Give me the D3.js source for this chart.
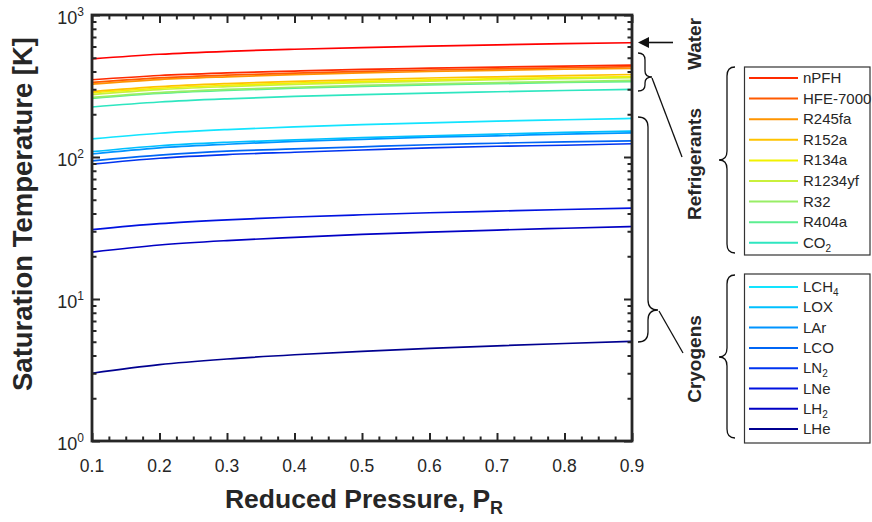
<!DOCTYPE html>
<html><head><meta charset="utf-8">
<script src="https://cdn.jsdelivr.net/npm/d3@7"></script>
<style>
body{margin:0;background:#fff}
svg{display:block}
text{font-family:"Liberation Sans",Arial,Helvetica,sans-serif;fill:#262626}
</style>
</head><body>
<svg id="chart" width="872" height="522"></svg>
<script>
// ---------------- data ----------------
const pressures = [0.1, 0.2, 0.3, 0.4, 0.5, 0.6, 0.7, 0.8, 0.9];

const waterT = [491, 529, 555, 574, 590, 604, 617, 628, 638];

const refrigerantNames = ["nPFH", "HFE-7000", "R245fa", "R152a", "R134a", "R1234yf", "R32", "R404a", "CO"];
const refrigerantSubs  = ["", "", "", "", "", "", "", "", "2"];
const nPFH_T    = [350, 375, 391, 403, 414, 422, 430, 437, 443];
const hfe7000_T = [335, 361, 377, 390, 401, 410, 418, 425, 432];
const r245fa_T  = [326, 351, 367, 380, 391, 400, 408, 415, 421];
const r152a_T   = [289, 313, 329, 341, 351, 360, 367, 374, 381];
const r134a_T   = [283, 305, 320, 332, 341, 349, 356, 363, 369];
const r1234yf_T = [275, 298, 313, 325, 334, 342, 350, 356, 362];
const r32_T     = [263, 284, 299, 310, 319, 327, 334, 340, 346];
const r404a_T   = [259, 280, 294, 305, 314, 322, 328, 335, 340];
const co2_T     = [225, 244, 257, 267, 275, 282, 288, 294, 299];

const cryogenNames = ["LCH", "LOX", "LAr", "LCO", "LN", "LNe", "LH", "LHe"];
const cryogenSubs  = ["4", "", "", "", "2", "", "2", ""];
const lch4_T = [134, 147, 156, 163, 169, 174, 179, 183, 187];
const lox_T  = [109, 120, 127, 132, 137, 141, 145, 149, 152];
const lar_T  = [105, 116, 123, 129, 133, 138, 141, 145, 148];
const lco_T  = [94, 103, 110, 114, 118, 122, 125, 128, 130];
const ln2_T  = [89, 98, 104, 108, 112, 116, 119, 121, 124];
const lne_T  = [30.8, 33.9, 36.1, 37.8, 39.2, 40.5, 41.6, 42.7, 43.6];
const lh2_T  = [21.4, 24.0, 25.8, 27.2, 28.5, 29.6, 30.6, 31.5, 32.4];
const lhe_T  = [3.0, 3.45, 3.78, 4.05, 4.28, 4.49, 4.68, 4.86, 5.03];

const xTickValues = [0.1, 0.2, 0.3, 0.4, 0.5, 0.6, 0.7, 0.8, 0.9];
const xTickLabels = ["0.1", "0.2", "0.3", "0.4", "0.5", "0.6", "0.7", "0.8", "0.9"];
const yTickValues = [1, 10, 100, 1000];
const yTickExponents = ["0", "1", "2", "3"];

// ---------------- styles ----------------
const waterColor = "#ff0000";
const refrigerantColors = ["#ff2a00", "#ff5a00", "#ff9400", "#ffc300", "#f2f200", "#c9f03c", "#98ee66", "#5cee90", "#2ee6c0"];
const cryogenColors = ["#12e4ff", "#00c0ff", "#0094ff", "#0066f5", "#0034f0", "#0012e0", "#0000c4", "#000090"];
const axisColor = "#262626";

const refrigerantSeries = [nPFH_T, hfe7000_T, r245fa_T, r152a_T, r134a_T, r1234yf_T, r32_T, r404a_T, co2_T];
const cryogenSeries = [lch4_T, lox_T, lar_T, lco_T, ln2_T, lne_T, lh2_T, lhe_T];

// ---------------- layout ----------------
const L = 92, R = 632, T = 15, B = 441;
const svg = d3.select("#chart");
const x = d3.scaleLinear().domain([0.1, 0.9]).range([L, R]);
const y = d3.scaleLog().domain([1, 1000]).range([B, T]);

const line = d3.line()
  .x((d, i) => x(pressures[i]))
  .y(d => y(d))
  .curve(d3.curveMonotoneX);

// data lines
const plot = svg.append("g");
cryogenSeries.slice().reverse().forEach((s, k) => {
  const i = cryogenSeries.length - 1 - k;
  plot.append("path").attr("d", line(s)).attr("fill", "none")
    .attr("stroke", cryogenColors[i]).attr("stroke-width", 1.7);
});
refrigerantSeries.slice().reverse().forEach((s, k) => {
  const i = refrigerantSeries.length - 1 - k;
  plot.append("path").attr("d", line(s)).attr("fill", "none")
    .attr("stroke", refrigerantColors[i]).attr("stroke-width", 1.7);
});
plot.append("path").attr("d", line(waterT)).attr("fill", "none")
  .attr("stroke", waterColor).attr("stroke-width", 1.7);

// axes (ticks inward on all four sides)
const xMinor = d3.range(0.1, 0.9001, 0.025).filter(v => Math.abs(v * 10 - Math.round(v * 10)) > 1e-6);
const yMinor = [];
[1, 10, 100].forEach(d => { for (let m = 2; m <= 9; m++) yMinor.push(d * m); });

function styleAxis(g) {
  g.select(".domain").remove();
  g.selectAll(".tick line").attr("stroke", axisColor).attr("stroke-width", 2);
  g.selectAll(".tick text").remove();
}
const maj = 8, mnr = 4.5;
svg.append("g").attr("transform", `translate(0,${B})`).call(d3.axisBottom(x).tickValues(xTickValues).tickSize(-maj).tickFormat("")).call(styleAxis);
svg.append("g").attr("transform", `translate(0,${B})`).call(d3.axisBottom(x).tickValues(xMinor).tickSize(-mnr).tickFormat("")).call(styleAxis);
svg.append("g").attr("transform", `translate(0,${T})`).call(d3.axisTop(x).tickValues(xTickValues).tickSize(-maj).tickFormat("")).call(styleAxis);
svg.append("g").attr("transform", `translate(0,${T})`).call(d3.axisTop(x).tickValues(xMinor).tickSize(-mnr).tickFormat("")).call(styleAxis);
svg.append("g").attr("transform", `translate(${L},0)`).call(d3.axisLeft(y).tickValues(yTickValues).tickSize(-maj).tickFormat("")).call(styleAxis);
svg.append("g").attr("transform", `translate(${L},0)`).call(d3.axisLeft(y).tickValues(yMinor).tickSize(-mnr).tickFormat("")).call(styleAxis);
svg.append("g").attr("transform", `translate(${R},0)`).call(d3.axisRight(y).tickValues(yTickValues).tickSize(-maj).tickFormat("")).call(styleAxis);
svg.append("g").attr("transform", `translate(${R},0)`).call(d3.axisRight(y).tickValues(yMinor).tickSize(-mnr).tickFormat("")).call(styleAxis);

svg.append("rect").attr("x", L).attr("y", T).attr("width", R - L).attr("height", B - T)
  .attr("fill", "none").attr("stroke", axisColor).attr("stroke-width", 2.8);

// tick labels
svg.append("g").selectAll("text").data(xTickValues).join("text")
  .attr("x", d => x(d)).attr("y", B + 31).attr("text-anchor", "middle")
  .attr("font-size", 17.5).text((d, i) => xTickLabels[i]);

const yl = svg.append("g").selectAll("text").data(yTickValues).join("text")
  .attr("x", L - 8).attr("y", d => y(d) + 9).attr("text-anchor", "end").attr("font-size", 18);
yl.append("tspan").text("10");
yl.append("tspan").attr("font-size", 12).attr("dy", -8).text((d, i) => yTickExponents[i]);

// axis titles
svg.append("text").attr("x", 364).attr("y", 508).attr("text-anchor", "middle")
  .attr("font-size", 26.5).attr("font-weight", "bold")
  .call(t => { t.append("tspan").text("Reduced Pressure, P");
               t.append("tspan").attr("font-size", 18).attr("dy", 6).text("R"); });
svg.append("text").attr("transform", "translate(32,214) rotate(-90)").attr("text-anchor", "middle")
  .attr("font-size", 27.5).attr("font-weight", "bold").text("Saturation Temperature [K]");

// legends
function legend(y0, h, names, subs, colors, first, step) {
  const g = svg.append("g");
  g.append("rect").attr("x", 744.5).attr("y", y0).attr("width", 125.5).attr("height", h)
    .attr("fill", "#fff").attr("stroke", "#333").attr("stroke-width", 1.2);
  names.forEach((n, i) => {
    const yy = first + i * step;
    g.append("line").attr("x1", 749).attr("x2", 798).attr("y1", yy).attr("y2", yy)
      .attr("stroke", colors[i]).attr("stroke-width", 2);
    const t = g.append("text").attr("x", 803).attr("y", yy + 5).attr("font-size", 15);
    t.append("tspan").text(n);
    if (subs[i]) t.append("tspan").attr("font-size", 10).attr("dy", 4).text(subs[i]);
  });
}
legend(67, 188, refrigerantNames, refrigerantSubs, refrigerantColors, 78, 20.6);
legend(274, 169, cryogenNames, cryogenSubs, cryogenColors, 287, 20.3);

// annotations
const ann = svg.append("g").attr("fill", "none").attr("stroke", "#111").attr("stroke-width", 1.3);
ann.append("path").attr("d", "M735,67 Q727,67 727,76 L727,151 Q727,160 719,160 Q727,160 727,169 L727,244 Q727,253 735,253");
ann.append("path").attr("d", "M735,275 Q727,275 727,284 L727,348 Q727,357 719,357 Q727,357 727,366 L727,429 Q727,438 735,438");
ann.append("path").attr("d", "M638,53 Q645,53 645,60 L645,71 Q645,77 652,77 Q645,77 645,83 L645,85 Q645,91 638,91");
ann.append("path").attr("d", "M638,117 Q648,117 648,127 L648,300 Q648,310 658,310 Q648,310 648,320 L648,332 Q648,342 638,342");
ann.append("line").attr("x1", 652).attr("y1", 78).attr("x2", 682).attr("y2", 157);
ann.append("line").attr("x1", 659).attr("y1", 311).attr("x2", 683).attr("y2", 353);
ann.append("line").attr("x1", 647).attr("y1", 42.5).attr("x2", 673).attr("y2", 42.5).attr("stroke-width", 1.6);
svg.append("path").attr("d", "M638,42.5 L649,37 L649,48 Z").attr("fill", "#111");

svg.append("text").attr("transform", "translate(701,44) rotate(-90)").attr("text-anchor", "middle")
  .attr("font-size", 19).attr("font-weight", "bold").text("Water");
svg.append("text").attr("transform", "translate(701,164) rotate(-90)").attr("text-anchor", "middle")
  .attr("font-size", 19).attr("font-weight", "bold").text("Refrigerants");
svg.append("text").attr("transform", "translate(701,359) rotate(-90)").attr("text-anchor", "middle")
  .attr("font-size", 19).attr("font-weight", "bold").text("Cryogens");
</script>
</body></html>
